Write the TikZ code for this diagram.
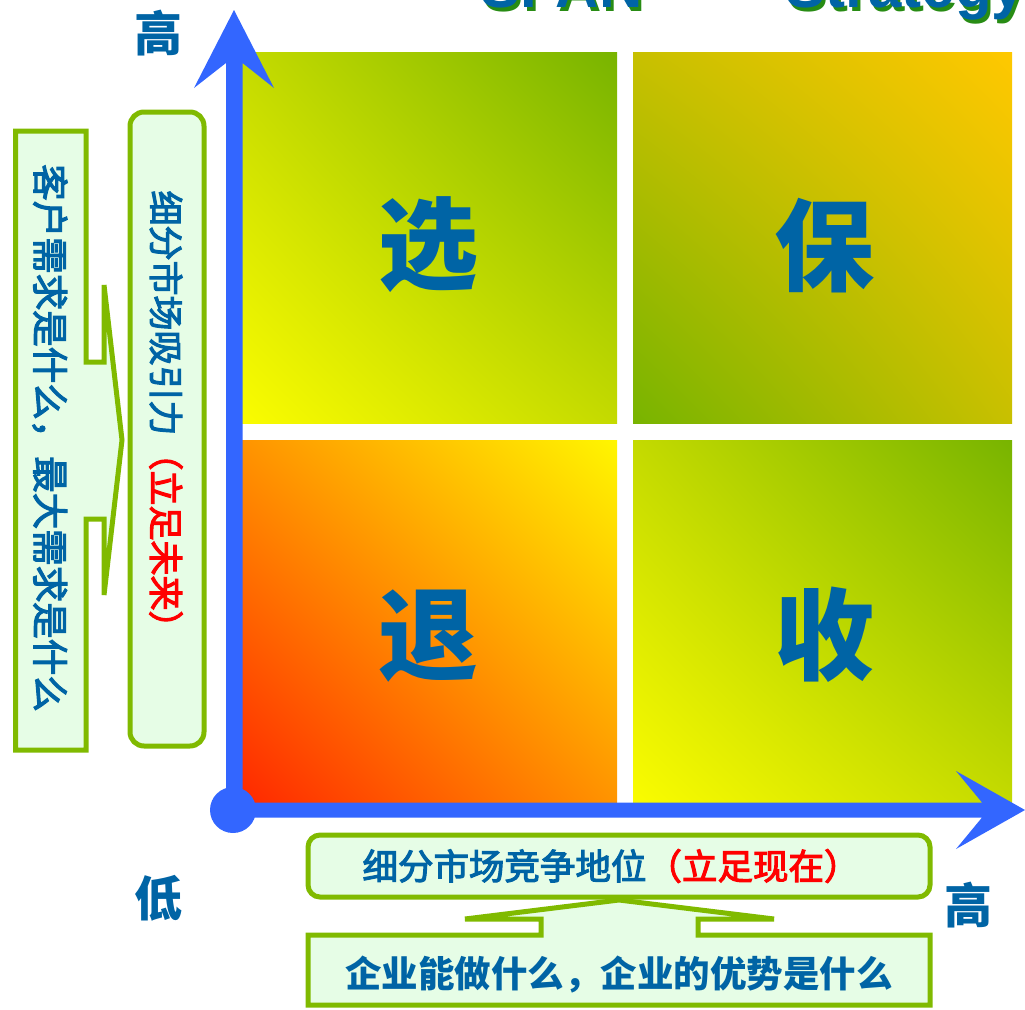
\documentclass[tikz,border=0pt]{standalone}
\usepackage{fontspec}
\usetikzlibrary{shadings}
\newfontfamily\cjk{Noto Sans CJK SC}
\newfontfamily\cjkmed{Noto Sans CJK SC}[FakeBold=3]
\newfontfamily\titlefont{Liberation Sans}
\definecolor{txtblue}{RGB}{0,100,165}
\definecolor{axisblue}{RGB}{51,102,255}
\definecolor{boxgreen}{RGB}{128,186,0}
\definecolor{boxfill}{RGB}{230,253,230}
\definecolor{shadowgreen}{RGB}{40,140,20}
\definecolor{qgreen}{RGB}{120,180,0}
\definecolor{qyellow}{RGB}{250,252,0}
\definecolor{qmidTL}{RGB}{196,218,0}
\definecolor{qorange}{RGB}{255,200,0}
\definecolor{qmidTR}{RGB}{200,192,0}
\definecolor{qred}{RGB}{255,40,0}
\definecolor{qyel2}{RGB}{255,246,0}
\definecolor{qmidBL}{RGB}{255,148,0}
\definecolor{redtxt}{RGB}{255,0,0}
\tikzset{
  bigchar/.style={font=\cjk\bfseries\fontsize{100}{100}\selectfont, text=txtblue, inner sep=0pt},
  axislabel/.style={font=\cjk\bfseries\fontsize{48}{48}\selectfont, text=txtblue, inner sep=0pt},
  greenbox/.style={draw=boxgreen, line width=5pt, fill=boxfill, line join=miter},
  roundbox/.style={draw=boxgreen, line width=5pt, fill=boxfill, rounded corners=14pt, inner sep=0pt},
  vtext/.style={rotate=-90, inner sep=0pt, text=txtblue},
  titletext/.style={font=\titlefont\bfseries\fontsize{60}{60}\selectfont, inner sep=0pt, anchor=base west}
}
\begin{document}
\begin{tikzpicture}[x=1pt,y=-1pt]
\useasboundingbox (0,0) rectangle (1025,1009);
\begin{scope}
\clip (0,0) rectangle (1025,1009);
% title (cut off at top, as in the reference)
\node[titletext, text=shadowgreen] (spanS) at (483,11) {SPAN};
\node[titletext, text=txtblue] (span) at (480,8) {SPAN};
\node[titletext, text=shadowgreen] (stratS) at (788,11) {Strategy};
\node[titletext, text=txtblue] (strat) at (785,8) {Strategy};

% quadrants
\shade[upper left=qmidTL, upper right=qgreen, lower left=qyellow, lower right=qmidTL] (242,52) rectangle (617,423);
\shade[upper left=qmidTR, upper right=qorange, lower left=qgreen, lower right=qmidTR] (633,52) rectangle (1012,423);
\shade[upper left=qmidBL, upper right=qyel2, lower left=qred, lower right=qmidBL] (242,440) rectangle (617,803);
\shade[upper left=qmidTL, upper right=qgreen, lower left=qyellow, lower right=qmidTL] (633,440) rectangle (1012,803);
\node[bigchar] (xuan) at (428,245) {选};
\node[bigchar] (bao) at (824,246) {保};
\node[bigchar] (tui) at (428,636) {退};
\node[bigchar] (shou) at (824,635) {收};

% axes
\fill[axisblue] (234,10) -- (274,88) -- (242.5,63) -- (242.5,810) -- (226,810) -- (226,63) -- (194,88) -- cycle;
\fill[axisblue] (1025,810) -- (956,849) -- (982,817.5) -- (233,817.5) -- (233,802.5) -- (982,802.5) -- (956,771) -- cycle;
\fill[axisblue] (233,810) circle (23);
\coordinate (origin) at (233,810);

\node[axislabel] (hiY) at (158,33) {高};
\node[axislabel] (lo) at (158,898) {低};
\node[axislabel] (hiX) at (968,905) {高};

% left callout box
\draw[greenbox] (15.5,131) -- (86,131) -- (86,362) -- (104,362) -- (104,285) -- (122,440) -- (104,595) -- (104,519) -- (86,519) -- (86,750) -- (15.5,750) -- cycle;
\node[vtext, font=\cjkmed\fontsize{36.5}{36.5}\selectfont] (need) at (50,438) {客户需求是什么，最大需求是什么};

% attraction box
\node[roundbox, minimum width=74pt, minimum height=634pt] (attrbox) at (167,429) {};
\node[vtext, font=\cjkmed\fontsize{35}{35}\selectfont] (attr) at (166,418) {细分市场吸引力\textcolor{redtxt}{（立足未来）}};

% bottom boxes
\node[roundbox, rounded corners=12pt, minimum width=622pt, minimum height=62pt] (posbox) at (619,866) {};
\node[inner sep=0pt, text=txtblue, font=\cjkmed\fontsize{35.5}{35.5}\selectfont] (pos) at (611,866) {细分市场竞争地位\textcolor{redtxt}{（立足现在）}};
\draw[greenbox] (308,935) -- (541,935) -- (541,919) -- (465,919) -- (619,900) -- (774,919) -- (698,919) -- (698,935) -- (930,935) -- (930,1005) -- (308,1005) -- cycle;
\node[inner sep=0pt, text=txtblue, font=\cjk\bfseries\fontsize{36.5}{36.5}\selectfont] (can) at (619,975) {企业能做什么，企业的优势是什么};
\end{scope}
\end{tikzpicture}
\end{document}
